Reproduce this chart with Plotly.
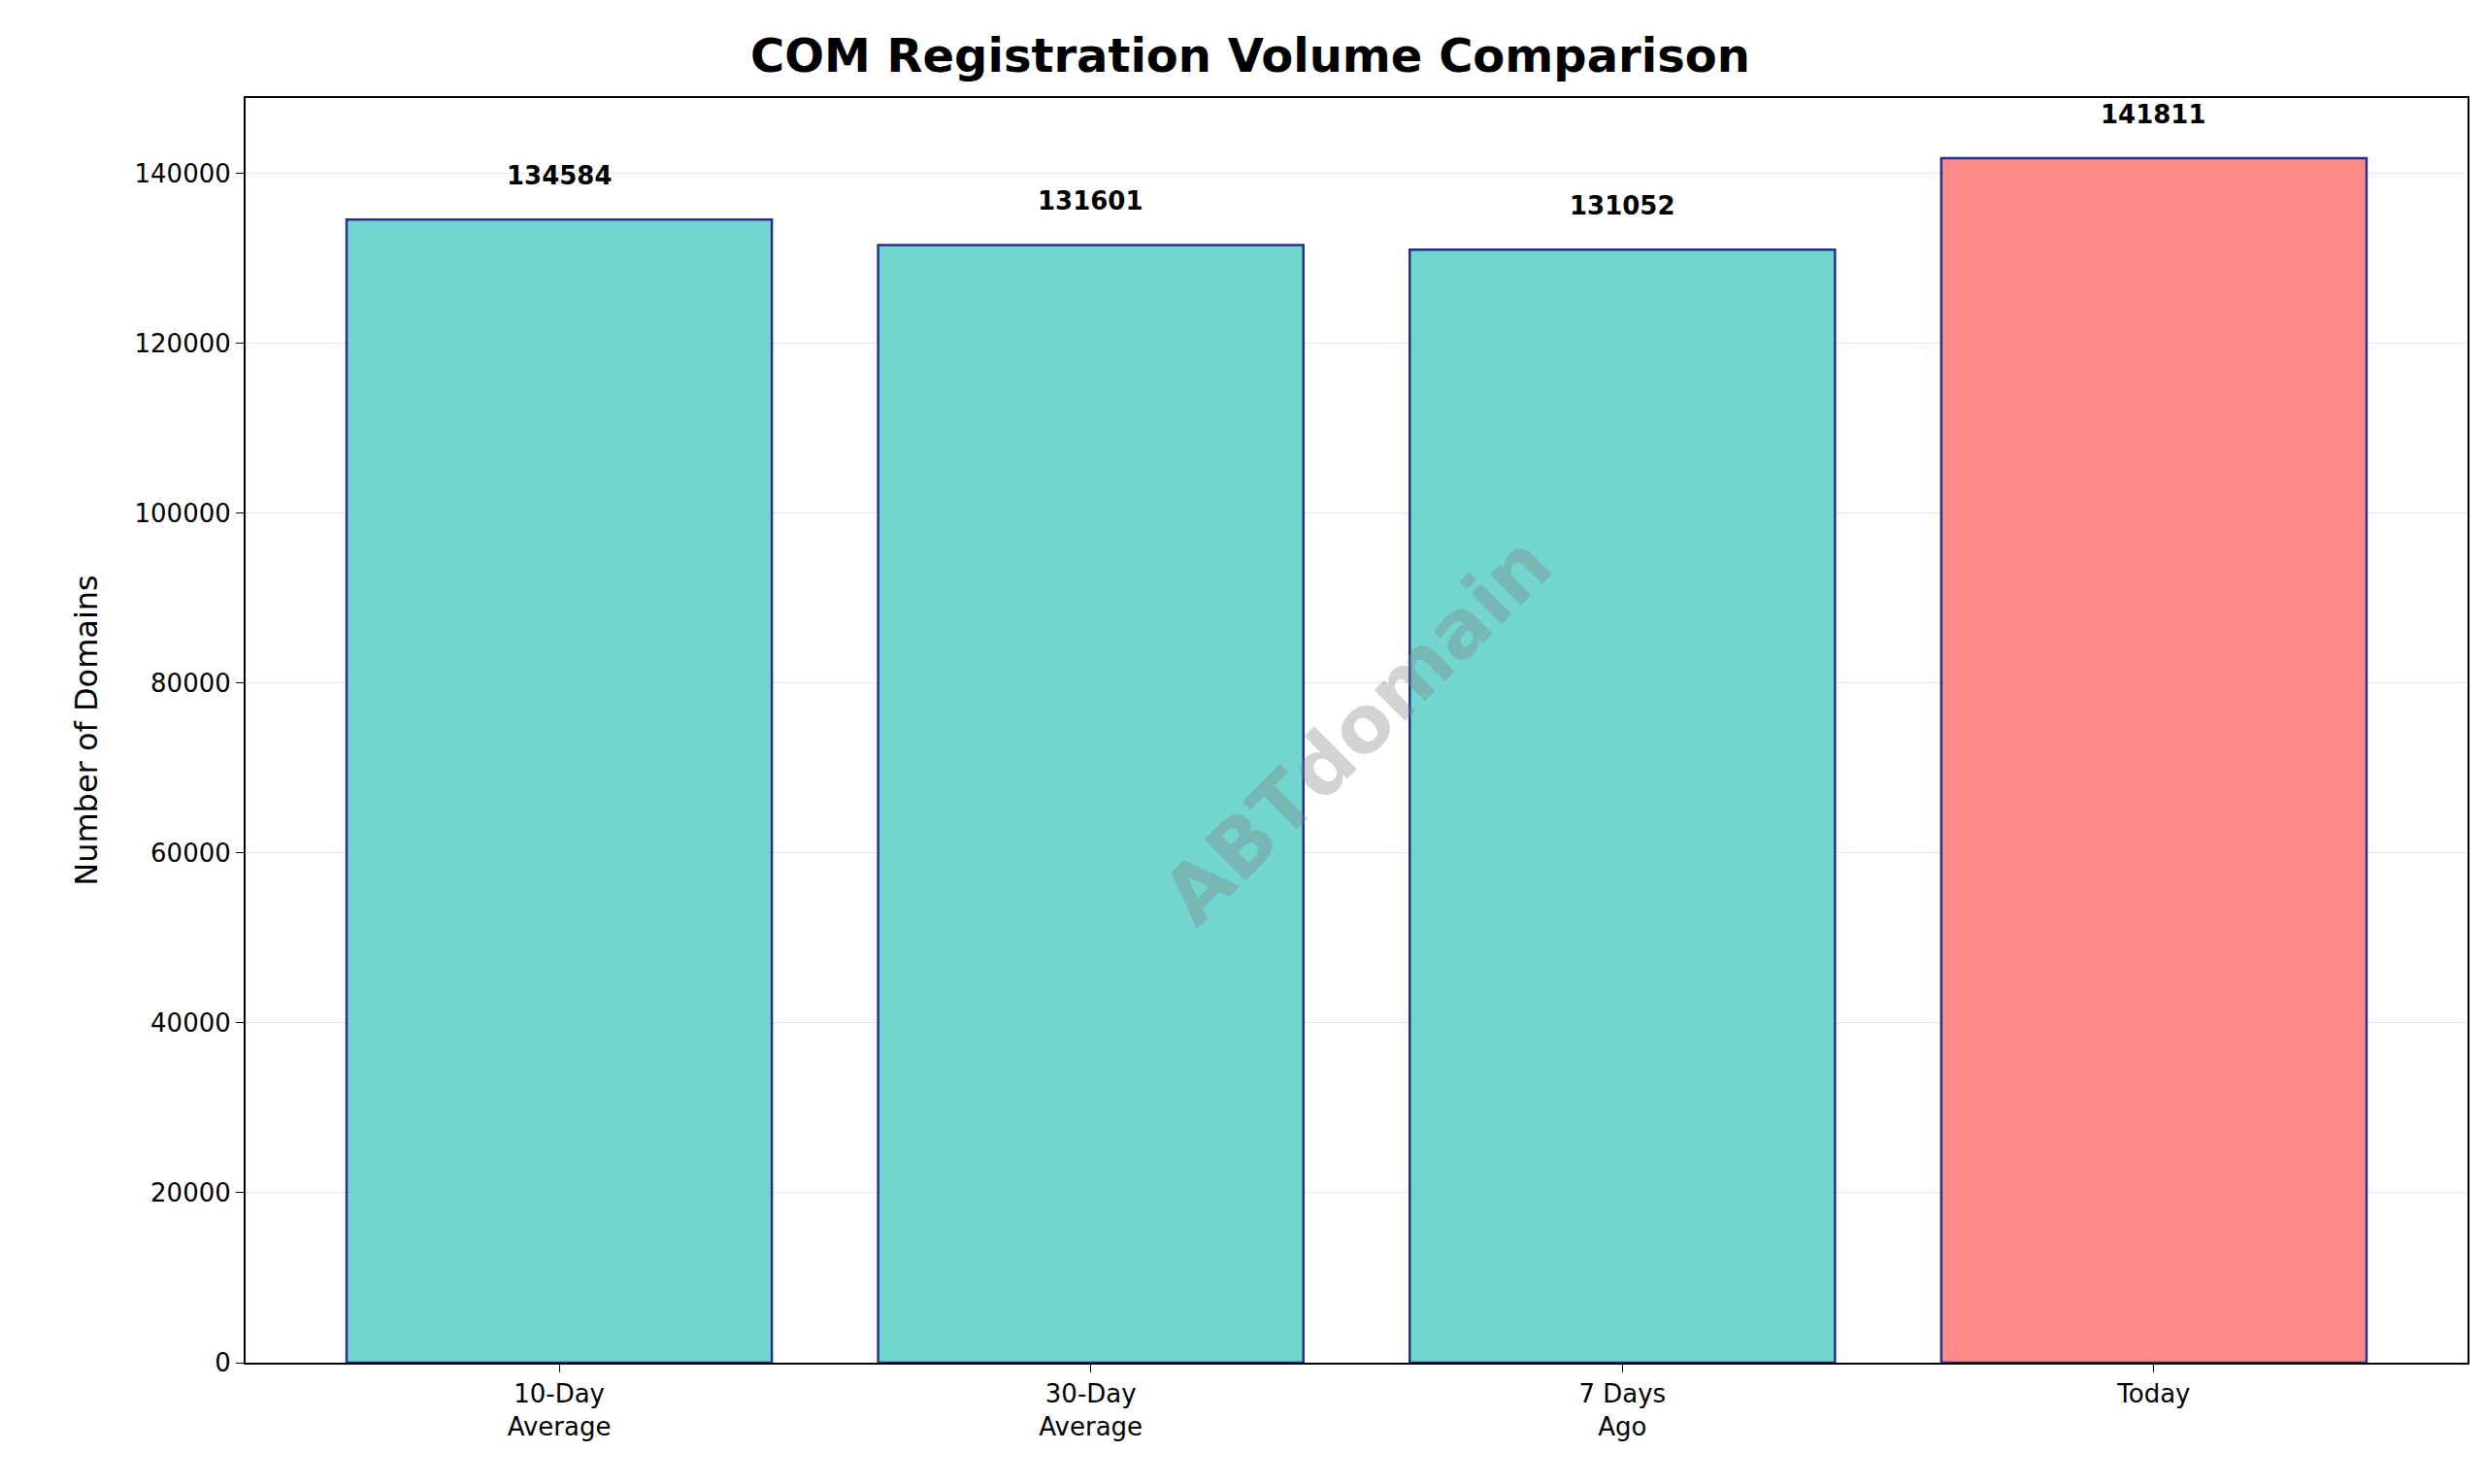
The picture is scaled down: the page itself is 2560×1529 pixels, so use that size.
import plotly.graph_objects as go

categories = ["10-Day<br>Average", "30-Day<br>Average", "7 Days<br>Ago", "Today"]
values = [134584, 131601, 131052, 141811]
colors = ["#72d6cf", "#72d6cf", "#72d6cf", "#ff8a8a"]

fig = go.Figure()
fig.add_trace(go.Bar(
    x=categories, y=values, width=0.8,
    marker=dict(color=colors, line=dict(color="#23308f", width=2.5)),
))

for c, v in zip(categories, values):
    fig.add_annotation(x=c, y=v, text="<b>%d</b>" % v, showarrow=False,
                       yshift=45, font=dict(size=26, color="black"))

fig.add_annotation(x=0.5, y=0.5, xref="paper", yref="paper", text="<b>ABTdomain</b>",
                   showarrow=False, textangle=-45,
                   font=dict(size=82, color="rgba(128,128,128,0.35)"))

axis_common = dict(showline=True, linecolor="black", linewidth=2, mirror=True,
                   ticks="outside", ticklen=8, tickcolor="black",
                   tickfont=dict(size=26, color="black"))
fig.update_layout(
    width=2560, height=1529,
    plot_bgcolor="white", paper_bgcolor="white",
    font=dict(family="DejaVu Sans", color="black"),
    title=dict(text="<b>COM Registration Volume Comparison</b>", x=0.5, xanchor="center",
               y=0.968, yanchor="middle", font=dict(size=48)),
    margin=dict(l=245, r=26, t=93, b=133),
    showlegend=False,
    xaxis=dict(axis_common, range=[-0.59, 3.59]),
    yaxis=dict(axis_common, range=[0, 148900], dtick=20000, tickformat="d",
               showgrid=True, gridcolor="rgba(0,0,0,0.1)", zeroline=False,
               title=dict(text="Number of Domains", font=dict(size=32), standoff=28)),
)
fig.write_html("out.html")
